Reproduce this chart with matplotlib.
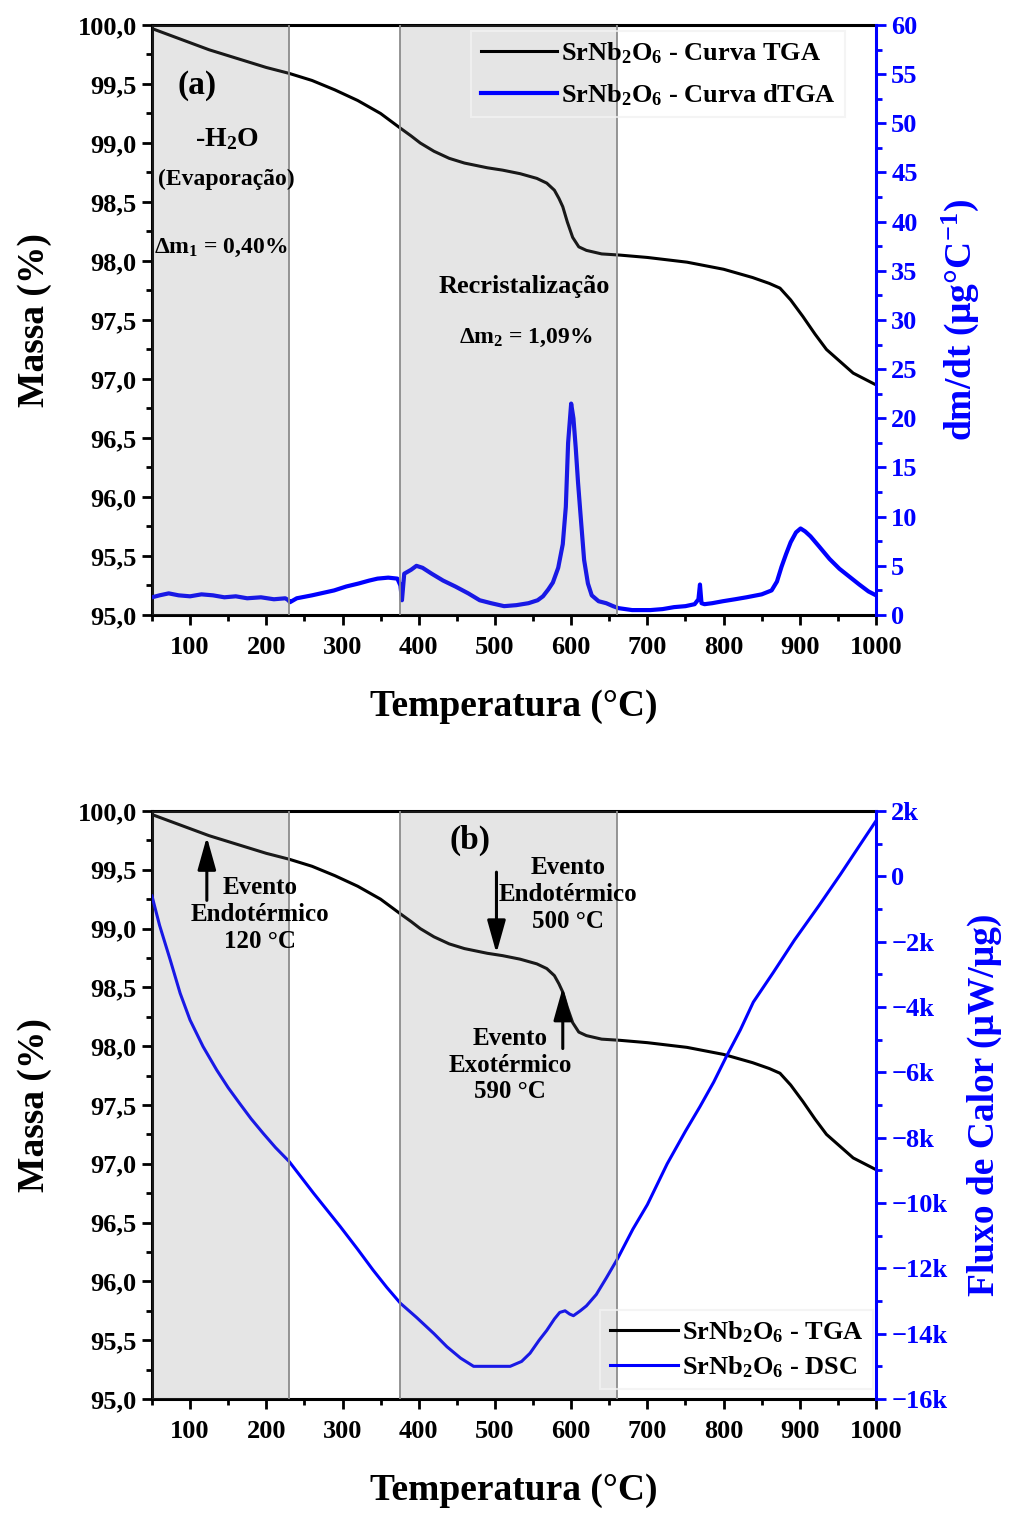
import matplotlib
matplotlib.use("Agg")
import matplotlib.pyplot as plt
from matplotlib.ticker import MultipleLocator, FuncFormatter

plt.rcParams['font.family'] = ['Liberation Serif', 'DejaVu Serif']
plt.rcParams['font.weight'] = 'bold'
plt.rcParams['axes.labelweight'] = 'bold'
plt.rcParams['mathtext.fontset'] = 'custom'
plt.rcParams['mathtext.rm'] = 'Liberation Serif:bold'
plt.rcParams['mathtext.it'] = 'Liberation Serif:bold'
plt.rcParams['mathtext.bf'] = 'Liberation Serif:bold'
plt.rcParams['axes.unicode_minus'] = True

# --- TGA: mass loss (%) vs temperature (°C)
tga_T = [50, 75, 100, 125, 150, 175, 200, 230, 260, 290, 320, 350, 375, 390, 402,
         420, 440, 460, 490, 510, 533, 555, 568, 578, 584, 589, 595, 602, 610, 620,
         640, 664, 700, 752, 800, 838, 860, 874, 888, 904, 920, 935, 949, 970, 985, 1000]
tga_mass = [99.97, 99.91, 99.85, 99.79, 99.74, 99.69, 99.64, 99.59, 99.53, 99.45,
            99.36, 99.25, 99.13, 99.06, 99.00, 98.93, 98.87, 98.83, 98.79, 98.77,
            98.74, 98.70, 98.66, 98.60, 98.53, 98.46, 98.33, 98.20, 98.12, 98.09,
            98.06, 98.05, 98.03, 97.99, 97.93, 97.86, 97.81, 97.77, 97.67, 97.53,
            97.38, 97.25, 97.17, 97.05, 97.00, 96.95]

# --- dTGA: derivative of mass (µg/°C)
dtga_T = [50, 60, 72, 85, 100, 115, 130, 145, 160, 175, 193, 210, 225, 229, 231,
          240, 260, 289, 305, 321, 335, 346, 360, 372, 376, 378, 381, 390, 397,
          405, 417, 432, 448, 465, 480, 495, 512, 528, 544, 556, 563, 570, 576,
          583, 589, 593, 596, 600, 603, 606, 609, 612, 617, 622, 627, 636, 646,
          655, 662, 680, 704, 720, 735, 750, 762, 767, 769, 771, 775, 785, 799,
          815, 830, 850, 863, 870, 876, 882, 888, 895, 901, 907, 914, 925, 939,
          952, 965, 978, 990, 1000]
dtga_val = [1.8, 2.0, 2.2, 2.0, 1.9, 2.1, 2.0, 1.8, 1.9, 1.7, 1.8, 1.6, 1.7, 1.5, 1.3,
            1.7, 2.0, 2.5, 2.9, 3.2, 3.5, 3.7, 3.8, 3.7, 3.0, 1.5, 4.2, 4.6, 5.0,
            4.8, 4.2, 3.5, 2.9, 2.2, 1.5, 1.2, 0.9, 1.0, 1.2, 1.5, 1.9, 2.6, 3.3,
            4.8, 7.2, 11.0, 17.5, 21.5, 20.0, 17.0, 13.5, 10.5, 5.6, 3.2, 2.0, 1.4, 1.2,
            0.9, 0.7, 0.5, 0.5, 0.6, 0.8, 0.9, 1.1, 1.6, 3.1, 1.2, 1.1, 1.2, 1.4,
            1.6, 1.8, 2.1, 2.5, 3.4, 4.9, 6.2, 7.4, 8.4, 8.8, 8.5, 8.0, 7.0, 5.7,
            4.7, 3.9, 3.1, 2.4, 2.0]

# --- DSC: heat flow (µW/µg)
dsc_T = [50, 60, 74, 87, 100, 117, 135, 150, 165, 180, 196, 212, 230, 262, 297,
         320, 340, 358, 376, 397, 420, 437, 455, 472, 500, 520, 535, 546, 558, 568,
         578, 585, 592, 598, 603, 612, 620, 633, 646, 661, 681, 700, 726, 750, 769,
         787, 804, 822, 839, 865, 893, 925, 953, 980, 1000]
dsc_val = [-600, -1500, -2560, -3580, -4400, -5210, -5930, -6470, -6950, -7420,
           -7870, -8300, -8730, -9700, -10720, -11420, -12050, -12580, -13070,
           -13500, -14000, -14400, -14750, -15000, -15000, -15000, -14850, -14600,
           -14200, -13900, -13550, -13350, -13300, -13400, -13450, -13300, -13150,
           -12800, -12300, -11700, -10800, -10050, -8800, -7800, -7050, -6300, -5500,
           -4700, -3850, -2950, -1950, -900, 50, 1000, 1700]

# thermal event regions (°C)
regions = [(50, 230), (375, 660)]
boundaries = [230, 375, 660]

BLUE = '#0000ff'
TICK_FS = 19
LABEL_FS = 27


def comma_fmt(v, pos):
    return f"{v:.1f}".replace('.', ',')


def k_fmt(v, pos):
    if abs(v) < 1e-9:
        return "0"
    s = f"{abs(v) / 1000:.0f}k"
    return ("\u2212" + s) if v < 0 else s


def style_left(ax):
    ax.set_xlim(50, 1000)
    ax.set_ylim(95, 100)
    ax.xaxis.set_major_locator(MultipleLocator(100))
    ax.xaxis.set_minor_locator(MultipleLocator(50))
    ax.yaxis.set_major_locator(MultipleLocator(0.5))
    ax.yaxis.set_minor_locator(MultipleLocator(0.25))
    ax.yaxis.set_major_formatter(FuncFormatter(comma_fmt))
    ax.tick_params(axis='both', which='major', direction='out', length=7, width=2,
                   labelsize=TICK_FS, pad=4)
    ax.tick_params(axis='both', which='minor', direction='out', length=4, width=2)
    ax.tick_params(axis='x', which='major', pad=8)
    ax.tick_params(axis='y', right=False)
    ax.tick_params(axis='x', top=False)
    for s in ['left', 'bottom', 'top']:
        ax.spines[s].set_linewidth(2.2)
    ax.set_ylabel('Massa (%)', fontsize=LABEL_FS, labelpad=18)
    ax.set_xlabel('Temperatura (°C)', fontsize=LABEL_FS, labelpad=22)


def style_right(ax2):
    ax2.spines['right'].set_color(BLUE)
    ax2.spines['right'].set_linewidth(2.2)
    for s in ['left', 'bottom', 'top']:
        ax2.spines[s].set_visible(False)
    ax2.tick_params(axis='y', which='both', colors=BLUE, direction='out', width=2,
                    labelsize=TICK_FS, pad=4)
    ax2.tick_params(axis='y', which='major', length=7)
    ax2.tick_params(axis='y', which='minor', length=4)
    ax2.yaxis.label.set_color(BLUE)


def shade(ax):
    for a, b in regions:
        ax.axvspan(a, b, color='#808080', alpha=0.2, lw=0, zorder=5)
    for x in boundaries:
        ax.axvline(x, color='#8c8c8c', lw=1.3, zorder=5)


fig = plt.figure(figsize=(10.11, 15.15), dpi=100)

# ---------------- panel (a): TGA + dTGA ----------------
axa = fig.add_axes([0.1503, 0.59406, 0.7162, 0.38944])
l_tga, = axa.plot(tga_T, tga_mass, color='black', lw=2.2, zorder=3,
                  label='SrNb$_2$O$_6$ - Curva TGA')
style_left(axa)

axa2 = axa.twinx()
l_dtga, = axa2.plot(dtga_T, dtga_val, color=BLUE, lw=3.0, zorder=3,
                    label='SrNb$_2$O$_6$ - Curva dTGA')
axa2.set_ylim(0, 60)
axa2.yaxis.set_major_locator(MultipleLocator(5))
axa2.yaxis.set_minor_locator(MultipleLocator(2.5))
axa2.set_ylabel('dm/dt (μg°C$^{-1}$)', fontsize=LABEL_FS, labelpad=16)
style_right(axa2)
shade(axa2)

td = axa.transData
axa2.text(109, 99.49, '(a)', transform=td, fontsize=24, ha='center', va='center', zorder=10)
axa2.text(148, 99.03, '-H$_2$O', transform=td, fontsize=20, ha='center', va='center', zorder=10)
axa2.text(148, 98.69, '(Evaporação)', transform=td, fontsize=17, ha='center', va='center', zorder=10)
axa2.text(53, 98.11, 'Δm$_1$ = 0,40%', transform=td, fontsize=17, ha='left', va='center', zorder=10)
axa2.text(539, 97.78, 'Recristalização', transform=td, fontsize=19, ha='center', va='center', zorder=10)
axa2.text(540, 97.35, 'Δm$_2$ = 1,09%', transform=td, fontsize=17, ha='center', va='center', zorder=10)

leg_a = axa2.legend(handles=[l_tga, l_dtga], loc='upper left',
                    bbox_to_anchor=(0.434, 0.998), fontsize=19, frameon=True,
                    fancybox=False, handlelength=2.9, handletextpad=0.15,
                    labelspacing=0.6, borderpad=0.35, borderaxespad=0.2)
leg_a.get_frame().set_facecolor('none')
leg_a.get_frame().set_edgecolor('#f2f2f2')
leg_a.get_frame().set_linewidth(1.5)
leg_a.set_zorder(20)

# ---------------- panel (b): TGA + DSC ----------------
axb = fig.add_axes([0.1503, 0.07657, 0.7162, 0.38812])
l_tga2, = axb.plot(tga_T, tga_mass, color='black', lw=2.2, zorder=3,
                   label='SrNb$_2$O$_6$ - TGA')
style_left(axb)

axb2 = axb.twinx()
l_dsc, = axb2.plot(dsc_T, dsc_val, color=BLUE, lw=2.2, zorder=3,
                   label='SrNb$_2$O$_6$ - DSC')
axb2.set_ylim(-16000, 2000)
axb2.yaxis.set_major_locator(MultipleLocator(2000))
axb2.yaxis.set_minor_locator(MultipleLocator(1000))
axb2.yaxis.set_major_formatter(FuncFormatter(k_fmt))
axb2.set_ylabel('Fluxo de Calor (μW/μg)', fontsize=LABEL_FS, labelpad=14)
style_right(axb2)
shade(axb2)

tb = axb.transData
axb2.text(467, 99.75, '(b)', transform=tb, fontsize=24, ha='center', va='center', zorder=10)

arrow = dict(arrowstyle='-|>,head_length=1.0,head_width=0.28', lw=2.2,
             color='black', mutation_scale=20, shrinkA=0, shrinkB=0)
axb2.annotate('', xy=(122, 99.78), xycoords=tb, xytext=(122, 99.24),
              textcoords=tb, arrowprops=arrow, zorder=10)
axb2.annotate('', xy=(502, 98.79), xycoords=tb, xytext=(502, 99.48),
              textcoords=tb, arrowprops=arrow, zorder=10)
axb2.annotate('', xy=(589, 98.50), xycoords=tb, xytext=(589, 97.98),
              textcoords=tb, arrowprops=arrow, zorder=10)

axb2.text(192, 99.12, 'Evento\nEndotérmico\n120 °C', transform=tb, fontsize=18,
          ha='center', va='center', linespacing=1.2, zorder=10)
axb2.text(596, 99.29, 'Evento\nEndotérmico\n500 °C', transform=tb, fontsize=18,
          ha='center', va='center', linespacing=1.2, zorder=10)
axb2.text(520, 97.84, 'Evento\nExotérmico\n590 °C', transform=tb, fontsize=18,
          ha='center', va='center', linespacing=1.2, zorder=10)

leg_b = axb2.legend(handles=[l_tga2, l_dsc], loc='lower left',
                    bbox_to_anchor=(0.612, 0.008), fontsize=19, frameon=True,
                    fancybox=False, handlelength=2.6, handletextpad=0.15,
                    labelspacing=0.35, borderpad=0.35, borderaxespad=0.2)
leg_b.get_frame().set_facecolor('none')
leg_b.get_frame().set_edgecolor('#f2f2f2')
leg_b.get_frame().set_linewidth(1.5)
leg_b.set_zorder(20)

fig.savefig('out.png', dpi=100)
